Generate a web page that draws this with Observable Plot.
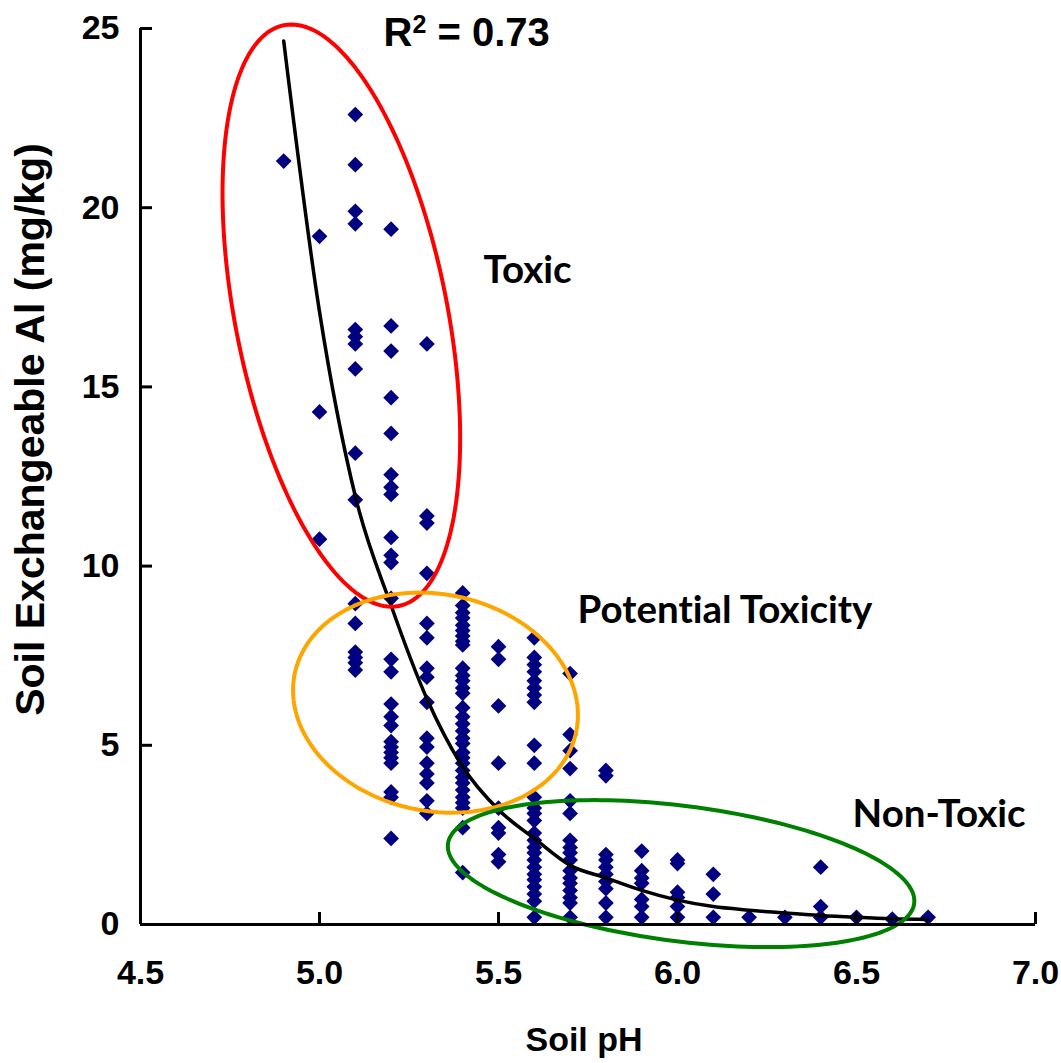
<!DOCTYPE html>
<html><head><meta charset="utf-8">
<script src="https://cdn.jsdelivr.net/npm/d3@7"></script>
<script src="https://cdn.jsdelivr.net/npm/@observablehq/plot@0.6"></script>
<style>body{margin:0;background:#fff;} svg{display:block;} svg text{font-variant-ligatures:none;}</style>
</head><body><div id="chart"></div>
<script>
// ---- data ----
const xTicks = [4.5, 5.0, 5.5, 6.0, 6.5, 7.0];
const yTicks = [0, 5, 10, 15, 20, 25];

const al_4_9 = [21.3];
const al_5_0 = [19.2, 14.3, 10.75];
const al_5_1 = [22.6, 21.2, 19.9, 19.55, 16.6, 16.4, 16.2, 15.5, 13.15, 11.85, 8.95, 8.4, 7.6, 7.45, 7.3, 7.1];
const al_5_2 = [19.4, 16.7, 16.0, 14.7, 13.7, 12.55, 12.2, 12.0, 10.8, 10.3, 10.1, 9.1, 7.4, 7.05, 6.15, 5.8, 5.55, 5.1, 4.95, 4.8, 4.65, 4.5, 3.7, 3.55, 2.4];
const al_5_3 = [16.2, 11.4, 11.2, 9.8, 8.4, 8.0, 7.15, 6.9, 6.2, 5.2, 4.95, 4.5, 4.2, 3.95, 3.45, 3.1];
const al_5_4 = [9.25, 8.9, 8.7, 8.55, 8.35, 8.2, 8.05, 7.9, 7.8, 7.15, 6.95, 6.8, 6.6, 6.45, 6.05, 5.8, 5.6, 5.4, 5.2, 5.05, 4.8, 4.65, 4.5, 4.3, 4.1, 3.95, 3.75, 3.55, 3.4, 3.25, 2.7, 1.45];
const al_5_5 = [7.75, 7.4, 6.1, 4.5, 3.25, 2.7, 2.55, 1.95, 1.75];
const al_5_6 = [8.0, 7.45, 7.25, 7.05, 6.8, 6.6, 6.4, 6.2, 5.0, 4.5, 3.55, 3.25, 3.1, 2.9, 2.55, 2.35, 2.15, 2.0, 1.8, 1.6, 1.4, 1.25, 1.05, 0.85, 0.65, 0.2];
const al_5_7 = [7.0, 5.3, 4.85, 4.35, 3.45, 3.1, 2.35, 2.15, 2.0, 1.8, 1.5, 1.3, 1.15, 0.95, 0.75, 0.6, 0.2];
const al_5_8 = [4.3, 4.15, 1.95, 1.8, 1.6, 1.4, 1.2, 1.0, 0.6, 0.2];
const al_5_9 = [2.05, 1.5, 1.3, 1.15, 0.7, 0.5, 0.2];
const al_6_0 = [1.8, 1.7, 0.9, 0.75, 0.5, 0.2];
const al_6_1 = [1.4, 0.85, 0.2];
const al_6_2 = [0.2];
const al_6_3 = [0.2];
const al_6_4 = [1.6, 0.5, 0.2];
const al_6_5 = [0.2];
const al_6_6 = [0.15];
const al_6_7 = [0.2];

const phLevels = [4.9, 5.0, 5.1, 5.2, 5.3, 5.4, 5.5, 5.6, 5.7, 5.8, 5.9, 6.0, 6.1, 6.2, 6.3, 6.4, 6.5, 6.6, 6.7];
const alColumns = [al_4_9, al_5_0, al_5_1, al_5_2, al_5_3, al_5_4, al_5_5, al_5_6, al_5_7, al_5_8, al_5_9, al_6_0, al_6_1, al_6_2, al_6_3, al_6_4, al_6_5, al_6_6, al_6_7];

// trend line
const trendPH = [4.9, 5.0, 5.1, 5.2, 5.3, 5.4, 5.5, 5.6, 5.7, 5.8, 5.9, 6.0, 6.1, 6.2, 6.3, 6.4, 6.5, 6.6, 6.7];
const trendAl = [24.65, 17.1, 11.95, 8.9, 6.3, 4.4, 3.2, 2.4, 1.65, 1.3, 0.95, 0.68, 0.5, 0.4, 0.32, 0.25, 0.2, 0.16, 0.14];

const r2Base = "R", r2Sup = "2", r2Rest = " = 0.73";
const r2PH = 5.179, r2Al = 24.5;

const zoneNames = ["Toxic", "Potential Toxicity", "Non-Toxic"];
const zoneLabelPH = [5.458, 5.721, 6.489];
const zoneLabelAl = [17.9, 8.4, 2.71];
const zoneCenterPH = [5.061, 5.324, 6.010];
const zoneCenterAl = [16.99, 6.19, 1.42];

const xTitle = "Soil pH";
const yTitle = "Soil Exchangeable Al (mg/kg)";

// ---- layout / styles ----
const W = 1061, H = 1063, mL = 140, mR = 26, mT = 28, mB = 139;
const kx = (W - mL - mR) / (xTicks[xTicks.length - 1] - xTicks[0]);
const ky = (H - mT - mB) / (yTicks[yTicks.length - 1] - yTicks[0]);
const zoneColors = ["#ff0000", "#ffa500", "#008000"];
const zoneShape = [ // semi-axes (px) and rotation (deg)
  {a: 296, b: 106, angle: 78.8},
  {a: 143.7, b: 108.4, angle: 11.6},
  {a: 235, b: 67.7, angle: 7.3}
];

const points = [];
phLevels.forEach((ph, i) => alColumns[i].forEach(v => points.push({ph, al: v})));
const trend = trendPH.map((ph, i) => ({ph, al: trendAl[i]}));

function ellipse(i) {
  const {a, b, angle} = zoneShape[i];
  const p = angle * Math.PI / 180, pts = [];
  for (let k = 0; k <= 180; k++) {
    const t = 2 * Math.PI * k / 180;
    const dx = a * Math.cos(t) * Math.cos(p) - b * Math.sin(t) * Math.sin(p);
    const dy = a * Math.cos(t) * Math.sin(p) + b * Math.sin(t) * Math.cos(p);
    pts.push({ph: zoneCenterPH[i] + dx / kx, al: zoneCenterAl[i] - dy / ky});
  }
  return pts;
}

const axisFont = "'Liberation Sans', Arial, sans-serif";
const labelFont = "Lato, 'Open Sans', sans-serif";

const chart = Plot.plot({
  width: W, height: H,
  marginLeft: mL, marginRight: mR, marginTop: mT, marginBottom: mB,
  style: {fontFamily: axisFont, fontSize: "34px", fontWeight: "bold", color: "black", background: "white", overflow: "visible"},
  x: {domain: [xTicks[0], xTicks[xTicks.length - 1]], ticks: xTicks, tickFormat: d => d.toFixed(1), tickSize: 0, tickPadding: 35, label: null},
  y: {domain: [yTicks[0], yTicks[yTicks.length - 1]], ticks: yTicks, tickSize: 0, tickPadding: 21, label: null},
  marks: [
    Plot.dot(points, {x: "ph", y: "al", symbol: "diamond2", r: 7.1, fill: "#000080", stroke: "none"}),
    Plot.line(trend, {x: "ph", y: "al", stroke: "black", strokeWidth: 3.5, curve: "monotone-x"}),
    ...zoneNames.map((n, i) => Plot.line(ellipse(i), {x: "ph", y: "al", stroke: zoneColors[i], strokeWidth: 4, curve: "linear"})),
    Plot.ruleY([yTicks[0]], {strokeWidth: 3, stroke: "black"}),
    Plot.ruleX([xTicks[0]], {strokeWidth: 3, stroke: "black"}),
    Plot.ruleX(xTicks, {x: d => d, y1: yTicks[0], y2: yTicks[0] + 12 / ky, strokeWidth: 3, stroke: "black"}),
    Plot.ruleY(yTicks, {y: d => d, x1: xTicks[0], x2: xTicks[0] + 12 / kx, strokeWidth: 3, stroke: "black"}),
    Plot.text(zoneNames, {x: (d, i) => zoneLabelPH[i], y: (d, i) => zoneLabelAl[i], text: d => d, textAnchor: "start", lineAnchor: "bottom", fontFamily: labelFont, fontWeight: "bold", fontSize: 38.5, fill: "black"}),
    Plot.text([r2Base + r2Sup + r2Rest], {x: () => r2PH, y: () => r2Al, text: d => d, textAnchor: "start", lineAnchor: "bottom", fontFamily: axisFont, fontWeight: "bold", fontSize: 40, fill: "black", className: "r2label"}),
    Plot.text([xTitle], {frameAnchor: "bottom", dx: -4, dy: 126, text: d => d, textAnchor: "middle", lineAnchor: "bottom", fontSize: 34, fontWeight: "bold", fill: "black"}),
    Plot.text([yTitle], {frameAnchor: "left", dx: -110, dy: -47, rotate: -90, text: d => d, textAnchor: "middle", lineAnchor: "middle", fontSize: 41, fontWeight: "bold", fill: "black"})
  ]
});

// turn the R² label into real superscript text
d3.select(chart).selectAll("text").filter(function() { return this.textContent === r2Base + r2Sup + r2Rest; })
  .each(function() {
    const t = d3.select(this);
    t.text(r2Base);
    t.append("tspan").attr("font-size", 25).attr("dy", -13).text(r2Sup);
    t.append("tspan").attr("font-size", 40).attr("dy", 13).text(r2Rest);
  });

document.getElementById("chart").appendChild(chart);
</script>
</body></html>
